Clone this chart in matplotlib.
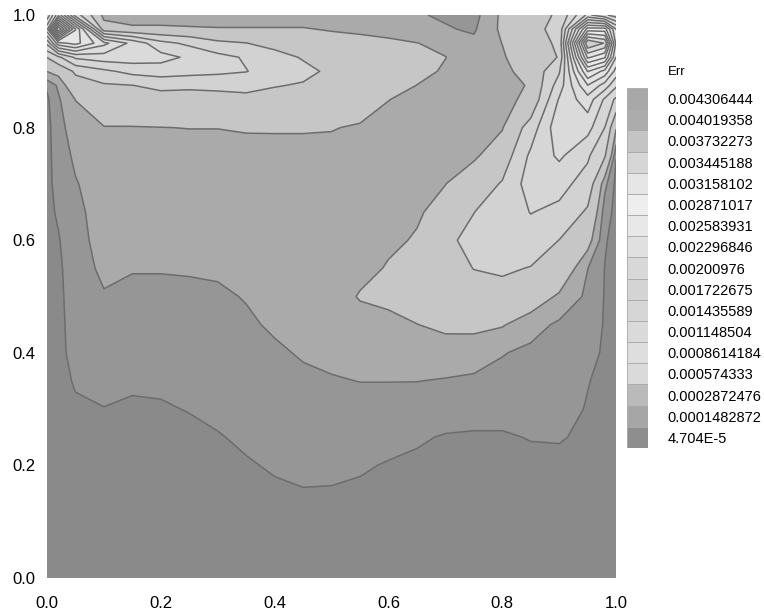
import numpy as np
import matplotlib
matplotlib.use("Agg")
import matplotlib.pyplot as plt

plt.rcParams['font.family'] = ['Liberation Sans', 'DejaVu Sans']

# contour levels of Err shown in the legend (bottom to top)
levels = [4.704e-5, 0.0001482872, 0.0002872476, 0.000574333, 0.0008614184,
          0.001148504, 0.001435589, 0.001722675, 0.00200976, 0.002296846,
          0.002583931, 0.002871017, 0.003158102, 0.003445188, 0.003732273,
          0.004019358, 0.004306444]
level_labels = ["4.704E-5", "0.0001482872", "0.0002872476", "0.000574333",
                "0.0008614184", "0.001148504", "0.001435589", "0.001722675",
                "0.00200976", "0.002296846", "0.002583931", "0.002871017",
                "0.003158102", "0.003445188", "0.003732273", "0.004019358",
                "0.004306444"]

x_nodes = [0, 0.02, 0.05, 0.1, 0.15, 0.2, 0.25, 0.3, 0.35, 0.4, 0.45, 0.5,
           0.55, 0.6, 0.65, 0.7, 0.75, 0.8, 0.85, 0.9, 0.95, 0.98, 1.0]
y_nodes = [0, 0.1, 0.15, 0.2, 0.25, 0.3, 0.35, 0.4, 0.45, 0.5, 0.55, 0.6,
           0.65, 0.7, 0.75, 0.8, 0.85, 0.875, 0.9, 0.925, 0.95, 0.975, 1.0]

# Err (x 1e-4), one list per x node, bottom to top
err_cols_e4 = [
    [0.2, 0.2, 0.2, 0.2, 0.2, 0.2, 0.2, 0.2, 0.2, 0.2, 0.2, 0.2, 0.2, 0.2, 0.2, 0.2, 0.3, 0.6, 2.9, 5.8, 12, 22, 15],
    [0.2, 0.2, 0.2, 0.2, 0.2, 0.2, 0.2, 0.2, 0.2, 0.22, 0.3, 0.4, 0.6, 0.8, 0.9, 1.0, 1.3, 1.7, 3.5, 8, 22, 43, 25],
    [0.2, 0.2, 0.2, 0.2, 0.25, 0.35, 0.55, 0.8, 0.9, 1.0, 1.0, 1.1, 1.2, 1.4, 1.7, 2.2, 2.9, 4.5, 6.2, 12, 24, 26, 10],
    [0.2, 0.2, 0.2, 0.2, 0.3, 0.45, 0.7, 0.9, 1.1, 1.4, 1.7, 1.9, 2.0, 2.1, 2.3, 2.8, 4.3, 5.4, 8.0, 13, 18, 4.0, 2.2],
    [0.2, 0.2, 0.2, 0.2, 0.25, 0.35, 0.6, 0.85, 1.0, 1.2, 1.55, 1.8, 2.0, 2.1, 2.3, 2.8, 4.4, 5.7, 9.5, 13, 13.5, 3.2, 2.0],
    [0.2, 0.2, 0.2, 0.2, 0.25, 0.4, 0.6, 0.8, 1.0, 1.2, 1.55, 1.8, 2.0, 2.1, 2.3, 2.85, 4.5, 6.5, 10, 12.5, 9.5, 3.2, 2.0],
    [0.2, 0.2, 0.2, 0.2, 0.3, 0.5, 0.75, 0.9, 1.0, 1.2, 1.6, 1.8, 2.0, 2.1, 2.3, 2.9, 4.5, 6.3, 9.6, 11, 8, 3.1, 1.9],
    [0.2, 0.2, 0.2, 0.25, 0.42, 0.65, 0.85, 0.95, 1.05, 1.3, 1.65, 1.85, 2.0, 2.1, 2.3, 2.9, 4.6, 6.5, 9.2, 9.5, 6.3, 3.0, 1.9],
    [0.2, 0.2, 0.25, 0.4, 0.6, 0.85, 0.95, 1.05, 1.3, 1.55, 1.8, 1.95, 2.05, 2.15, 2.35, 3.0, 4.8, 6.8, 8.7, 8.3, 5.8, 3.0, 1.9],
    [0.2, 0.25, 0.35, 0.55, 0.8, 0.95, 1.1, 1.3, 1.65, 1.9, 2.0, 2.1, 2.15, 2.2, 2.4, 3.0, 4.7, 5.9, 7.5, 6.8, 4.8, 3.0, 1.9],
    [0.2, 0.3, 0.42, 0.65, 0.85, 1.0, 1.25, 1.6, 1.85, 2.0, 2.1, 2.15, 2.2, 2.25, 2.4, 3.0, 4.5, 5.5, 6.5, 5.5, 4.3, 3.0, 1.9],
    [0.2, 0.3, 0.4, 0.65, 0.85, 1.05, 1.4, 1.75, 1.95, 2.1, 2.2, 2.25, 2.3, 2.3, 2.4, 2.95, 4.2, 4.8, 5.2, 4.8, 3.8, 2.7, 1.8],
    [0.2, 0.25, 0.35, 0.55, 0.8, 1.1, 1.5, 1.9, 2.2, 3.0, 2.4, 2.3, 2.3, 2.3, 2.35, 2.7, 3.8, 4.3, 4.5, 4.3, 3.5, 2.5, 1.8],
    [0.2, 0.2, 0.3, 0.42, 0.7, 1.1, 1.5, 2.0, 2.4, 3.3, 3.0, 2.6, 2.4, 2.3, 2.3, 2.4, 2.9, 3.5, 3.9, 3.8, 3.2, 2.3, 1.8],
    [0.2, 0.2, 0.25, 0.35, 0.55, 0.95, 1.5, 2.0, 2.85, 3.6, 3.5, 3.0, 2.7, 2.4, 2.3, 2.2, 2.5, 2.85, 3.3, 3.3, 2.9, 2.1, 1.6],
    [0.2, 0.2, 0.2, 0.3, 0.42, 0.8, 1.4, 2.2, 3.2, 4.2, 4.6, 5.2, 3.4, 2.85, 2.3, 2.1, 2.3, 2.5, 2.7, 2.9, 2.5, 1.6, 1.3],
    [0.2, 0.2, 0.2, 0.25, 0.4, 0.7, 1.3, 2.0, 3.3, 4.5, 5.8, 6.5, 5.7, 4.0, 2.6, 2.2, 2.1, 2.1, 2.1, 2.0, 1.8, 1.3, 1.0],
    [0.2, 0.2, 0.2, 0.25, 0.4, 0.7, 1.1, 1.55, 3.0, 4.6, 6.2, 7.5, 7.2, 6.0, 4.0, 2.75, 2.4, 2.4, 2.5, 2.7, 2.9, 3.2, 3.2],
    [0.2, 0.2, 0.2, 0.3, 0.5, 0.75, 1.0, 1.2, 2.0, 4.0, 5.6, 7.5, 8.7, 10, 9.2, 7, 3.3, 3.0, 3.5, 4.0, 4.5, 5.0, 5.0],
    [0.2, 0.2, 0.2, 0.3, 0.52, 0.75, 0.9, 1.05, 1.25, 2.6, 4.5, 5.7, 8.0, 9.5, 12, 13.5, 11.8, 10, 8.3, 5.9, 6.2, 6.5, 6.0],
    [0.2, 0.2, 0.2, 0.25, 0.35, 0.42, 0.5, 0.75, 0.95, 1.2, 1.5, 3.6, 5.3, 7.5, 9.0, 12.5, 16, 20, 26, 35, 43, 30, 15],
    [0.2, 0.2, 0.2, 0.2, 0.2, 0.25, 0.3, 0.35, 0.4, 0.42, 0.45, 0.55, 0.9, 1.8, 6.0, 8.6, 11, 16, 22, 32, 40, 30, 12],
    [0.2, 0.2, 0.2, 0.2, 0.2, 0.2, 0.2, 0.2, 0.2, 0.2, 0.2, 0.2, 0.2, 0.2, 0.5, 3, 8, 12, 16, 20, 22, 20, 10],
]

# gray shades (0-255) of the filled bands, lowest band first
field_gray = [138, 150, 170, 198, 210, 214, 218, 221, 224, 227, 230, 233,
              235, 233, 228, 220, 208, 198]
# gray shades of the legend boxes, bottom box first
legend_gray = [142, 166, 186, 218, 222, 218, 214, 212, 216, 224, 232, 238,
               230, 214, 196, 172, 168]

X, Y = np.meshgrid(x_nodes, y_nodes)
Z = np.array(err_cols_e4).T * 1e-4

fig = plt.figure(figsize=(7.64, 6.16), dpi=100)
ax = fig.add_axes([0.0615, 0.0617, 0.745, 0.9139])

fill_levels = [0] + levels + [1]
fill_colors = [(g / 255, g / 255, g / 255) for g in field_gray]
ax.contourf(X, Y, Z, levels=fill_levels, colors=fill_colors)
ax.contour(X, Y, Z, levels=levels, colors='#6c6c6c', linewidths=1.1)

ax.set_xlim(0, 1)
ax.set_ylim(0, 1)
ax.set_xticks([0.0, 0.2, 0.4, 0.6, 0.8, 1.0])
ax.set_yticks([0.0, 0.2, 0.4, 0.6, 0.8, 1.0])
ax.set_xticklabels(["0.0", "0.2", "0.4", "0.6", "0.8", "1.0"])
ax.set_yticklabels(["0.0", "0.2", "0.4", "0.6", "0.8", "1.0"])
ax.tick_params(axis='both', length=0, labelsize=12)
ax.tick_params(axis='x', pad=13)
ax.tick_params(axis='y', pad=8)
for s in ax.spines.values():
    s.set_visible(False)

# legend boxes
cax = fig.add_axes([0.8207, 0.2727, 0.0275, 0.5844])
for i, g in enumerate(legend_gray):
    cax.bar(0.5, 1, bottom=i, width=1, color=(g / 255, g / 255, g / 255),
            edgecolor='#a8a8a8', linewidth=0.6)
cax.set_xlim(0, 1)
cax.set_ylim(0, len(levels))
cax.set_xticks([])
cax.yaxis.tick_right()
cax.set_yticks(np.arange(len(levels)) + 0.5)
cax.set_yticklabels(level_labels)
cax.tick_params(axis='y', length=0, pad=14, labelsize=10.5)
for s in cax.spines.values():
    s.set_visible(False)

fig.text(668 / 764, 1 - 72 / 616, "Err", fontsize=9.5, va='center', ha='left')

fig.savefig("out.png", dpi=100)
